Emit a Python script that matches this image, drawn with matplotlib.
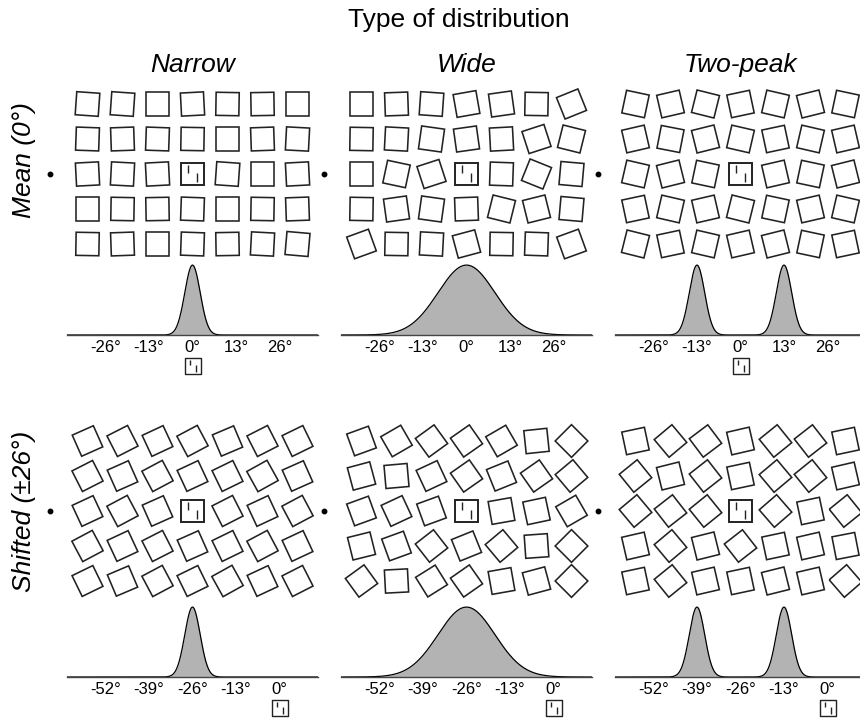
import numpy as np
import matplotlib
matplotlib.use('Agg')
import matplotlib.pyplot as plt
from matplotlib.patches import Rectangle
from matplotlib.path import Path
from matplotlib.transforms import blended_transform_factory

plt.rcParams['font.family'] = ['Liberation Sans', 'DejaVu Sans']

# ------------------------------------------------------------------ data
super_title = 'Type of distribution'
distribution_types = ['Narrow', 'Wide', 'Two-peak']
condition_labels = ['Mean (0°)', 'Shifted (±26°)']

mean_ticks = [-26, -13, 0, 13, 26]
shifted_ticks = [-52, -39, -26, -13, 0]
mean_center = 0
shifted_center = -26

# distribution components (peak locations, sd)
top_narrow_means = [0]
top_wide_means = [0]
top_twopeak_means = [-13, 13]
bot_narrow_means = [-26]
bot_wide_means = [-26]
bot_twopeak_means = [-39, -13]
narrow_sd = 2.3
wide_sd = 8.5
twopeak_sd = 2.3

# orientation of every square in the 5 x 7 arrays (deg, + = clockwise);
# the central cell is the upright reference square
nan = np.nan
top_narrow_angles = [
    [4, 4, 0, -3, 1, -1, 0],
    [2, -2, 2, 1, 0, -2, 3],
    [-3, 3, -3, nan, 4, 0, -3],
    [0, 1, -1, 2, 0, 1, -2],
    [1, -2, 0, 2, -1, 3, 5],
]
top_wide_angles = [
    [0, -2, 4, -10, -8, 1, -22],
    [1, 3, 8, -8, -3, -18, 14],
    [0, 12, -18, nan, 2, 22, 5],
    [1, -8, 8, -2, 14, -14, 5],
    [-20, 1, 3, -15, 1, 2, -20],
]
top_twopeak_angles = [
    [12, -13, 14, -12, 13, -14, 12],
    [-13, 11, -14, 13, -12, 13, -13],
    [13, -14, 12, nan, -13, 12, -14],
    [-12, 13, -13, 14, 12, -13, 13],
    [14, -12, 13, -13, -14, 12, -12],
]
bot_narrow_angles = [
    [-24, -27, -25, -28, -23, -27, -26],
    [-27, -24, -28, -25, -26, -29, -24],
    [-25, -28, -24, nan, -27, -25, -28],
    [-28, -25, -27, -24, -26, -28, -25],
    [-26, -23, -28, -26, -29, -25, -27],
]
bot_wide_angles = [
    [-20, -30, -36, -35, -30, -6, -45],
    [-15, -5, -25, -35, -22, -35, -40],
    [-20, -25, -20, nan, -10, -12, -30],
    [-14, -20, -38, -22, -40, -4, -45],
    [-36, -3, -32, -35, -10, -15, -45],
]
bot_twopeak_angles = [
    [-12, -40, -37, -13, -39, -38, -12],
    [-39, -14, -38, -12, -40, -39, -13],
    [-40, -38, -39, nan, -41, -12, -39],
    [-13, -40, -14, -38, -12, -13, -11],
    [-12, -39, -13, -12, -14, -13, -41],
]

# ------------------------------------------------------------------ layout
W, H = 860, 720
fig = plt.figure(figsize=(W / 100, H / 100), dpi=100)
fig.patch.set_facecolor('white')


def rect(left, top, w, h):
    return [left / W, 1 - (top + h) / H, w / W, h / H]


panel_left = [70, 344, 618]
grid_top = [86.5, 423.5]
dist_top = [263, 605]
CELL = 35
GRID_W, GRID_H = 7 * CELL, 5 * CELL
DIST_W, DIST_H = 251, 72
HALF_RANGE = 37.5
SQ = 0.66
REF_SQ = 0.63
FIX_COL = -1.07
LINE_C = '#222222'

angle_sets = [[top_narrow_angles, top_wide_angles, top_twopeak_angles],
              [bot_narrow_angles, bot_wide_angles, bot_twopeak_angles]]
mean_sets = [[top_narrow_means, top_wide_means, top_twopeak_means],
             [bot_narrow_means, bot_wide_means, bot_twopeak_means]]
sd_list = [narrow_sd, wide_sd, twopeak_sd]
centers = [mean_center, shifted_center]
tick_sets = [mean_ticks, shifted_ticks]
show_icon = [[True, False, True], [True, True, True]]

# icon marker: reference square with its two vertical marks
icon_path = Path(
    [(-0.5, -0.5), (0.5, -0.5), (0.5, 0.5), (-0.5, 0.5), (-0.5, -0.5),
     (-0.2, 0.42), (-0.2, 0.04),
     (0.19, 0.04), (0.19, -0.38)],
    [Path.MOVETO, Path.LINETO, Path.LINETO, Path.LINETO, Path.CLOSEPOLY,
     Path.MOVETO, Path.LINETO,
     Path.MOVETO, Path.LINETO])


def draw_reference(ax, cx, cy, s, lw):
    ax.add_patch(Rectangle((cx - s / 2, cy - s / 2), s, s, fill=False,
                           ec=LINE_C, lw=lw))
    top = cy - s / 2
    ax.plot([cx - 0.2 * s] * 2, [top + 0.08 * s, top + 0.46 * s],
            color=LINE_C, lw=1.0, solid_capstyle='butt')
    ax.plot([cx + 0.19 * s] * 2, [top + 0.46 * s, top + 0.88 * s],
            color=LINE_C, lw=1.0, solid_capstyle='butt')


for r in range(2):
    for c in range(3):
        # ---------------- stimulus grid
        gax = fig.add_axes(rect(panel_left[c], grid_top[r], GRID_W, GRID_H))
        gax.set_xlim(-0.5, 6.5)
        gax.set_ylim(4.5, -0.5)
        gax.axis('off')
        angles = np.array(angle_sets[r][c], dtype=float)
        nrow, ncol = angles.shape
        for i in range(nrow):
            for j in range(ncol):
                a = angles[i, j]
                if np.isnan(a):
                    draw_reference(gax, j, i, REF_SQ, 1.4)
                    continue
                gax.add_patch(Rectangle((j - SQ / 2, i - SQ / 2), SQ, SQ,
                                        angle=a, rotation_point='center',
                                        fill=False, ec=LINE_C, lw=1.15,
                                        clip_on=False))
        gax.plot([FIX_COL], [(nrow - 1) / 2], 'o', ms=3.2, color='black',
                 clip_on=False)

        # ---------------- distribution
        dax = fig.add_axes(rect(panel_left[c] - 3, dist_top[r], DIST_W, DIST_H))
        ctr = centers[r]
        x = np.linspace(ctr - HALF_RANGE, ctr + HALF_RANGE, 800)
        y = np.zeros_like(x)
        for m in mean_sets[r][c]:
            y += np.exp(-0.5 * ((x - m) / sd_list[c]) ** 2)
        y /= y.max()
        dax.fill_between(x, 0, y, color='#b3b3b3', lw=0)
        dax.plot(x, y, color='black', lw=0.9)
        dax.set_xlim(ctr - HALF_RANGE, ctr + HALF_RANGE)
        dax.set_ylim(0, 1.03)
        dax.set_facecolor('none')
        for sp in ['top', 'left', 'right']:
            dax.spines[sp].set_visible(False)
        dax.spines['bottom'].set_color('#444444')
        dax.spines['bottom'].set_linewidth(1.0)
        dax.set_yticks([])
        ticks = tick_sets[r]
        dax.set_xticks(ticks)
        dax.set_xticklabels([f'{t}°' for t in ticks])
        dax.tick_params(axis='x', length=0, pad=3.5, labelsize=12)
        if show_icon[r][c]:
            tr = blended_transform_factory(dax.transData, dax.transAxes)
            dax.plot([0], [-0.43], marker=icon_path, ms=11, mfc='none',
                     mec=LINE_C, mew=1.0, ls='none', transform=tr,
                     clip_on=False)

# ------------------------------------------------------------------ text
fig.text(459 / W, 1 - 27 / H, super_title, ha='center', va='baseline',
         fontsize=19)
for c, name in enumerate(distribution_types):
    fig.text((panel_left[c] + 122.5) / W, 1 - 72 / H, name, ha='center',
             va='baseline', fontsize=19, style='italic')
row_label_y = [160, 511]
for r, lab in enumerate(condition_labels):
    fig.text(24 / W, 1 - row_label_y[r] / H, lab, rotation=90, ha='center',
             va='center', fontsize=19, style='italic')

fig.savefig('out.png', dpi=100, facecolor='white')
